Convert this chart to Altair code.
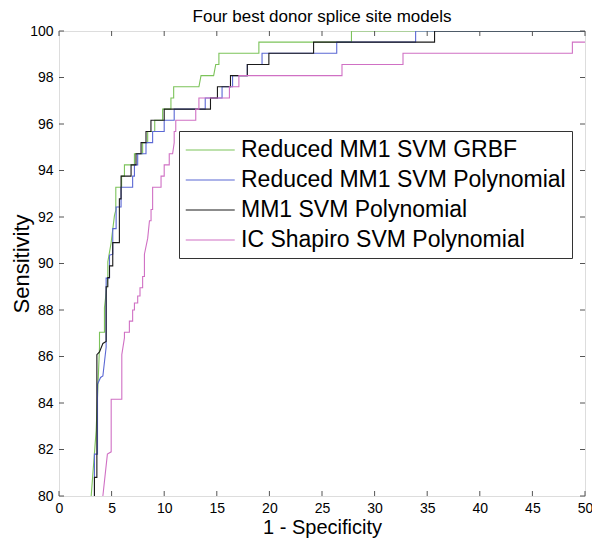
import altair as alt
import pandas as pd

series_names = ["Reduced MM1 SVM GRBF", "Reduced MM1 SVM Polynomial",
                "MM1 SVM Polynomial", "IC Shapiro SVM Polynomial"]
series_colors = ["#7cc35a", "#5b68d4", "#1a1a1a", "#d070c4"]

green_x = [3.06, 3.53, 3.85, 3.85, 4.32, 4.32, 4.64, 4.64, 4.95, 5.27, 5.40, 5.40,
           5.95, 5.95, 6.22, 6.22, 7.17, 7.17, 7.95, 7.95, 8.43, 8.43, 9.10, 9.10,
           9.85, 9.85, 10.64, 10.64, 10.90, 10.90, 13.30, 13.50, 14.70, 14.90,
           15.20, 15.20, 19.00, 19.00, 27.80, 27.80, 50.0]
green_y = [80.0, 82.8, 86.4, 87.04, 87.04, 88.1, 89.4, 90.07, 90.88, 92.06, 92.3, 93.28,
           93.28, 93.76, 93.76, 94.24, 94.24, 94.72, 94.72, 95.20, 95.20, 95.68, 95.68, 96.16,
           96.16, 96.64, 96.64, 97.12, 97.12, 97.60, 97.60, 98.08, 98.08, 98.56,
           98.56, 99.04, 99.04, 99.52, 99.52, 100.0, 100.0]

blue_x = [3.37, 3.37, 3.66, 3.66, 3.95, 4.17, 4.48, 4.48, 4.80, 4.80, 5.11, 5.11,
          5.43, 5.43, 5.90, 5.90, 7.00, 7.00, 7.17, 7.17, 7.48, 7.48, 8.27, 8.27,
          8.90, 8.90, 10.00, 10.00, 10.95, 10.95, 13.90, 13.90, 15.50, 15.50, 16.50,
          16.50, 17.90, 17.90, 19.30, 19.30, 26.40, 26.40, 33.90, 33.90, 50.0]
blue_y = [80.0, 81.8, 81.8, 84.8, 85.1, 85.16, 86.4, 89.37, 89.37, 90.36, 90.4, 91.5,
          91.5, 92.43, 92.43, 93.28, 93.28, 93.76, 93.76, 94.24, 94.24, 94.72, 94.72, 95.20,
          95.20, 95.68, 95.68, 96.16, 96.16, 96.64, 96.64, 97.12, 97.12, 97.60, 97.60,
          98.08, 98.08, 98.56, 98.56, 99.04, 99.04, 99.52, 99.52, 100.0, 100.0]

black_x = [3.37, 3.37, 3.60, 3.60, 3.85, 4.17, 4.48, 4.48, 4.64, 4.64, 4.80, 4.80,
           5.11, 5.11, 5.74, 5.74, 5.90, 5.90, 6.85, 6.85, 7.32, 7.32, 7.80, 7.80,
           8.27, 8.27, 8.74, 8.74, 10.00, 10.00, 14.40, 14.40, 15.06, 15.06, 16.30,
           16.30, 17.90, 17.90, 19.95, 19.95, 24.20, 24.20, 35.70, 35.70, 50.0]
black_y = [80.0, 80.8, 80.8, 86.08, 86.2, 86.56, 86.65, 89.0, 89.0, 89.4, 89.4, 89.9,
           89.9, 90.9, 90.9, 92.78, 92.78, 93.76, 93.76, 94.24, 94.24, 94.72, 94.72, 95.20,
           95.20, 95.68, 95.68, 96.16, 96.16, 96.64, 96.64, 97.12, 97.12, 97.60, 97.60,
           98.08, 98.08, 98.56, 98.56, 99.04, 99.04, 99.52, 99.52, 100.0, 100.0]

magenta_x = [4.17, 4.60, 4.96, 4.96, 5.97, 5.97, 6.22, 6.22, 6.69, 6.69, 7.00, 7.00,
             7.17, 7.17, 7.48, 7.48, 7.70, 7.70, 7.95, 7.95, 8.12, 8.12, 8.43, 8.60,
             8.75, 8.75, 8.90, 8.90, 9.70, 9.70, 10.00, 10.00, 10.48, 10.48, 10.80,
             10.95, 10.95, 11.10, 11.10, 13.00, 13.00, 13.30, 13.30, 16.20, 16.20,
             17.10, 17.10, 26.90, 26.90, 32.70, 32.70, 48.80, 48.80, 50.0]
magenta_y = [80.0, 81.8, 81.9, 84.16, 84.16, 86.08, 86.8, 87.04, 87.04, 87.52, 87.52, 88.0,
             88.0, 88.3, 88.3, 88.6, 88.6, 88.96, 88.96, 89.44, 89.44, 90.4, 91.08, 91.84,
             91.84, 92.32, 92.32, 93.28, 93.28, 93.76, 93.76, 94.24, 94.24, 94.72, 94.72,
             95.20, 95.68, 95.68, 96.16, 96.16, 96.64, 96.64, 97.12, 97.12, 97.60,
             97.60, 98.08, 98.08, 98.56, 98.56, 99.04, 99.04, 99.52, 99.52]

x_ticks = [0, 5, 10, 15, 20, 25, 30, 35, 40, 45, 50]
y_ticks = [80, 82, 84, 86, 88, 90, 92, 94, 96, 98, 100]

rows = []
for name, xs, ys in zip(series_names,
                        [green_x, blue_x, black_x, magenta_x],
                        [green_y, blue_y, black_y, magenta_y]):
    for i, (a, b) in enumerate(zip(xs, ys)):
        rows.append({"series": name, "x": a, "y": b, "i": i})
df = pd.DataFrame(rows)

W, H = 526, 465
FONT = "Liberation Sans"
AX = "#555555"
xscale = alt.Scale(domain=[0, 50], nice=False, zero=False)
yscale = alt.Scale(domain=[80, 100], nice=False, zero=False)

x_axis = alt.Axis(title="1 - Specificity", values=x_ticks, ticks=False, tickSize=0,
                  domain=False, grid=False, labelFontSize=14, labelFont=FONT,
                  labelColor="black", labelPadding=5, titleFontSize=20,
                  titleFont=FONT, titleFontWeight="normal", titleColor="black",
                  titlePadding=2, labelFlush=False)
y_axis = alt.Axis(title="Sensitivity", values=y_ticks, ticks=False, tickSize=0,
                  domain=False, grid=False, labelFontSize=14, labelFont=FONT,
                  labelColor="black", labelPadding=6, titleFontSize=22,
                  titleFont=FONT, titleFontWeight="normal", titleColor="black",
                  titlePadding=-4, labelFlush=False)

lines = alt.Chart(df).mark_line(strokeWidth=1.1, clip=True).encode(
    x=alt.X("x:Q", scale=xscale, axis=x_axis),
    y=alt.Y("y:Q", scale=yscale, axis=y_axis),
    color=alt.Color("series:N", sort=series_names,
                    scale=alt.Scale(domain=series_names, range=series_colors),
                    legend=alt.Legend(title=None, orient="none", legendX=120, legendY=100,
                                      direction="vertical", symbolType="M-1,0H3",
                                      symbolSize=600, symbolStrokeWidth=1.1,
                                      symbolFillColor="transparent",
                                      labelFontSize=23, labelFont=FONT, labelColor="black",
                                      labelLimit=600, labelOffset=30, padding=6,
                                      rowPadding=5, strokeColor="#333333",
                                      fillColor="white")),
    order="i:Q",
)

tx = pd.DataFrame({"t": x_ticks})
ty = pd.DataFrame({"t": y_ticks})
tick_bottom = alt.Chart(tx).mark_rule(color=AX, strokeWidth=1).encode(
    x=alt.X("t:Q", scale=xscale, axis=x_axis), y=alt.value(H), y2=alt.value(H - 5))
tick_top = alt.Chart(tx).mark_rule(color=AX, strokeWidth=1).encode(
    x=alt.X("t:Q", scale=xscale, axis=x_axis), y=alt.value(0), y2=alt.value(5))
tick_left = alt.Chart(ty).mark_rule(color=AX, strokeWidth=1).encode(
    y=alt.Y("t:Q", scale=yscale, axis=y_axis), x=alt.value(0), x2=alt.value(5))
tick_right = alt.Chart(ty).mark_rule(color=AX, strokeWidth=1).encode(
    y=alt.Y("t:Q", scale=yscale, axis=y_axis), x=alt.value(W - 5), x2=alt.value(W))

chart = alt.layer(lines, tick_bottom, tick_top, tick_left, tick_right).properties(
    width=W, height=H,
    title=alt.TitleParams("Four best donor splice site models", fontSize=17,
                          fontWeight="normal", font=FONT, color="black",
                          anchor="middle", offset=4, dy=6),
    autosize=alt.AutoSizeParams(type="none"),
    padding={"left": 51, "top": 23, "right": 7, "bottom": 45},
).configure_view(stroke=AX, strokeWidth=1.2).configure(background="white")

chart.save("out.html", embed_options={"renderer": "svg", "actions": False})
